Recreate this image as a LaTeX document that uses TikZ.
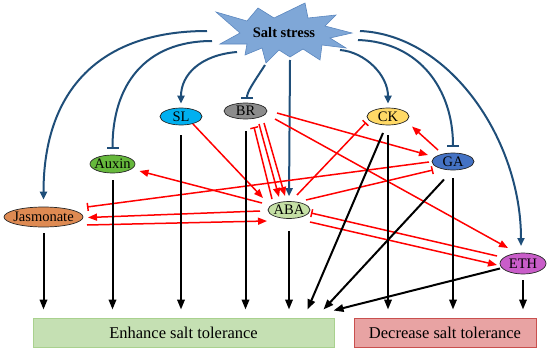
\documentclass[tikz,border=0pt]{standalone}
\usepackage{fontspec}
\setmainfont{Liberation Serif}
\usetikzlibrary{arrows.meta,shapes.geometric,calc}
\definecolor{sblue}{HTML}{1F4E79}
\definecolor{starfill}{HTML}{7FA7D7}
\definecolor{stardraw}{HTML}{5B87BF}
\definecolor{slc}{HTML}{00B0F0}
\definecolor{brc}{HTML}{8C8C8C}
\definecolor{ckc}{HTML}{FFD966}
\definecolor{auxc}{HTML}{66B83C}
\definecolor{gac}{HTML}{4472C4}
\definecolor{jasc}{HTML}{DE8A52}
\definecolor{abac}{HTML}{C5E0A5}
\definecolor{ethc}{HTML}{C95DC9}
\definecolor{enhfill}{HTML}{C5E0B3}
\definecolor{enhdraw}{HTML}{A9D18E}
\definecolor{decfill}{HTML}{E8A3A3}
\definecolor{decdraw}{HTML}{C9504E}
\newcommand{\lbl}[1]{\makebox[0pt][c]{#1}}
\begin{document}
\begin{tikzpicture}[x=1pt,y=-1pt,
  hormone/.style={ellipse, draw=black!85, line width=0.7pt, inner sep=0pt,
    font=\fontsize{14.5}{17}\selectfont},
  outbox/.style={rectangle, line width=1pt, inner sep=0pt, minimum height=29pt,
    font=\fontsize{16.5}{19}\selectfont},
  blueline/.style={draw=sblue, line width=2pt},
  bluearr/.style={blueline, -{Triangle[length=8pt,width=7pt]}},
  bluebar/.style={blueline, -{Bar[width=12pt]}},
  redline/.style={draw=red, line width=1.5pt},
  redarr/.style={redline, -{Triangle[length=9pt,width=7pt]}},
  redbar/.style={redline, -{Bar[width=8pt]}},
  blackarr/.style={draw=black, line width=2pt, -{Triangle[length=10pt,width=7.5pt]}}
]
\useasboundingbox (0,0) rectangle (554,356);

% Salt stress star
\draw[fill=starfill, draw=stardraw, line width=0.6pt]
  (216,12) -- (247,21) -- (258,8) -- (274,18) -- (305,3) -- (308,18) -- (336,15)
  -- (325,26) -- (352,33) -- (330,38) -- (346,48) -- (322,45) -- (320,60)
  -- (303,49) -- (290,57) -- (279,50) -- (266,63) -- (262,48) -- (245,55)
  -- (247,44) -- (220,44) -- (240,33) -- cycle;
\node[font=\fontsize{14.5}{17}\selectfont\bfseries, inner sep=0pt] (salt) at (284,33) {Salt stress};

% start points on the star
\coordinate (sjas) at (207,31);
\coordinate (saux) at (212,41);
\coordinate (ssl)  at (237,52);
\coordinate (sbr)  at (265,65);
\coordinate (saba) at (290,60);
\coordinate (sck)  at (340,50);
\coordinate (sga)  at (358,40);
\coordinate (seth) at (360,31);

% hormones
\node[hormone, fill=slc,  minimum width=42pt, minimum height=17pt] (sl)  at (181,116.5) {\lbl{SL}};
\node[hormone, fill=brc,  minimum width=43pt, minimum height=16pt] (br)  at (245.5,111) {\lbl{BR}};
\node[hormone, fill=ckc,  minimum width=42pt, minimum height=17pt] (ck)  at (388,116.5) {\lbl{CK}};
\node[hormone, fill=auxc, minimum width=45pt, minimum height=18pt] (aux) at (112.5,164) {\lbl{Auxin}};
\node[hormone, fill=gac,  minimum width=42pt, minimum height=17pt] (ga)  at (453,161.5) {\lbl{GA}};
\node[hormone, fill=jasc, minimum width=79pt, minimum height=20pt] (jas) at (43.5,217) {\lbl{Jasmonate}};
\node[hormone, fill=abac, minimum width=42pt, minimum height=17pt] (aba) at (289,210) {\lbl{ABA}};
\node[hormone, fill=ethc, minimum width=46pt, minimum height=21pt] (eth) at (523,263.5) {\lbl{ETH}};

% outcome boxes
\node[outbox, fill=enhfill, draw=enhdraw, minimum width=301pt] (enh) at (183.5,332.5) {Enhance salt tolerance};
\node[outbox, fill=decfill, draw=decdraw, minimum width=182pt] (dec) at (445,332.5) {Decrease salt tolerance};

% blue connectors from salt stress
\draw[bluearr, shorten >=7pt] (sjas) .. controls (100,31) and (43.5,90) .. (jas.north);
\draw[bluebar, shorten >=6pt] (saux) .. controls (145,41) and (112.5,85) .. (aux.north);
\draw[bluearr, shorten >=4pt] (ssl) .. controls (200,55) and (181,75) .. (sl.north);
\draw[bluebar, shorten >=4pt] (sbr) .. controls (252,85) and (247,92) .. (247,103);
\draw[bluearr, shorten >=5pt] (saba) -- (aba.north);
\draw[bluearr, shorten >=4pt] (sck) .. controls (365,52) and (388,75) .. (ck.north);
\draw[bluebar, shorten >=6pt] (sga) .. controls (420,42) and (453,90) .. (ga.north);
\draw[bluearr, shorten >=7pt] (seth) .. controls (450,35) and (521,140) .. (521,253);

% red connectors
\draw[redarr] ($(sl)+(12,7.5)$) -- ($(aba)+(-26,-12)$);
\draw[redbar] ($(aba)+(-17,-11)$) -- ($(br)+(8.5,16)$);
\draw[redarr] ($(br)+(13.5,13)$) -- ($(aba)+(-10,-13)$);
\draw[redarr] ($(br)+(18.5,12)$) -- ($(aba)+(-4,-14)$);
\draw[redarr] ($(br)+(31.5,2)$) -- ($(ga)+(-25,-6.5)$);
\draw[redarr] ($(br)+(29.5,8)$) -- ($(eth)+(-15,-15.5)$);
\draw[redbar] ($(aba)+(8,-15)$) -- ($(ck)+(-22,6)$);
\draw[redarr] ($(ga)+(-15,-11.5)$) -- ($(ck)+(24,10)$);
\draw[redbar] ($(ga)+(-24,0.5)$) -- ($(jas)+(43.5,-10)$);
\draw[redbar] ($(aba)+(17,-10)$) -- ($(ga)+(-20,8.5)$);
\draw[redarr] ($(aba)+(-27,-7)$) -- ($(aux)+(27,7)$);
\draw[redarr] ($(aba)+(-29,1)$) -- ($(jas)+(44.5,0.5)$);
\draw[redarr] ($(jas)+(43.5,8)$) -- ($(aba)+(-22,11)$);
\draw[redbar] ($(eth)+(-26,-7.5)$) -- ($(aba)+(22,3)$);
\draw[redarr] ($(aba)+(21,12)$) -- ($(eth)+(-26,1.5)$);

% black connectors to outcomes
\draw[blackarr, shorten <=6pt, shorten >=8pt] (jas.south) -- (jas.south |- enh.north);
\draw[blackarr, shorten <=7pt, shorten >=8pt] (aux.south) -- (aux.south |- enh.north);
\draw[blackarr, shorten <=10pt, shorten >=8pt] (sl.south) -- (sl.south |- enh.north);
\draw[blackarr, shorten <=12pt, shorten >=8pt] (br.south) -- (br.south |- enh.north);
\draw[blackarr, shorten <=12pt, shorten >=8pt] (aba.south) -- (aba.south |- enh.north);
\draw[blackarr, shorten <=10pt, shorten >=8pt] (ck.south) -- (ck.south |- dec.north);
\draw[blackarr, shorten <=8pt, shorten >=8pt] (ga.south) -- (ga.south |- dec.north);
\draw[blackarr, shorten <=6pt, shorten >=8pt] (eth.south) -- (eth.south |- dec.north);
\draw[blackarr] ($(ck)+(-5,16.5)$) -- ($(enh.north east)+(-27,-8)$);
\draw[blackarr] ($(ga)+(-9,18)$) -- ($(enh.north east)+(-11,-8)$);
\draw[blackarr] ($(eth)+(-23,5)$) -- ($(enh.north east)+(-1,-7)$);
\end{tikzpicture}
\end{document}
